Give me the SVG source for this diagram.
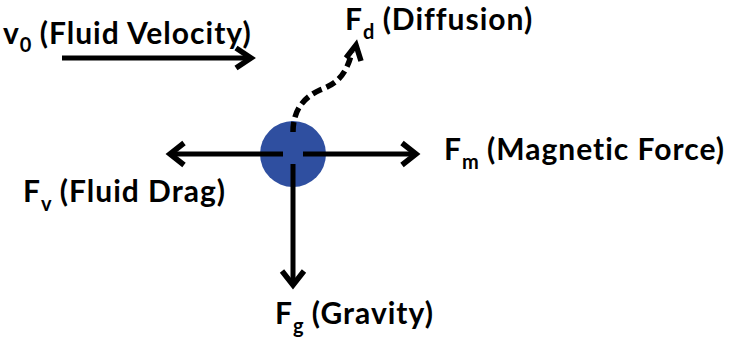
<svg xmlns="http://www.w3.org/2000/svg" width="738" height="349" viewBox="0 0 738 349">
<style>
.t{font-family:Lato,"Open Sans","Liberation Sans",sans-serif;font-weight:bold;font-size:30px;letter-spacing:1px;fill:#000}
.s{font-size:20px;letter-spacing:0}
.ln{stroke:#000;stroke-width:5;fill:none}
.hd{stroke:#000;stroke-width:5.5;fill:none;stroke-linejoin:miter;stroke-linecap:butt}
</style>
<rect width="738" height="349" fill="#fff"/>
<g id="particle">
<circle cx="293" cy="154" r="33" fill="#2f4fa0"/>
</g>
<g id="connectors">
<path class="ln" d="M62 58 H248"/>
<path class="hd" d="M236 48 L251 58 L236 68"/>
<path class="ln" d="M283 154 H172"/>
<path class="hd" d="M184 143 L170 154 L184 165"/>
<path class="ln" d="M303 154 H414"/>
<path class="hd" d="M402 143 L416 154 L402 165"/>
<path class="ln" d="M293 164 V283"/>
<path class="hd" d="M282 271 L293 285 L304 271"/>
<path d="M293 132 C293 112 302 98 320 90 C336 84 346 76 352 52" stroke="#000" stroke-width="5.5" fill="none" stroke-dasharray="10,5"/>
<path class="hd" d="M346 58 L356 45 L361 61"/>
</g>
<g id="label-v0"><text class="t" x="3" y="44">v<tspan class="s" dy="8">0</tspan><tspan dy="-8"> (Fluid Velocity)</tspan></text></g>
<g id="label-fd"><text class="t" x="345" y="30" letter-spacing="0.5">F<tspan class="s" dy="9">d</tspan><tspan dy="-9"> (Diffusion)</tspan></text></g>
<g id="label-fm"><text class="t" x="444" y="160">F<tspan class="s" dy="9">m</tspan><tspan dy="-9"> (Magnetic Force)</tspan></text></g>
<g id="label-fv"><text class="t" x="23" y="202">F<tspan class="s" dy="9">v</tspan><tspan dy="-9"> (Fluid Drag)</tspan></text></g>
<g id="label-fg"><text class="t" x="275" y="324" letter-spacing="0">F<tspan class="s" dy="9">g</tspan><tspan dy="-9"> (Gravity)</tspan></text></g>
</svg>
